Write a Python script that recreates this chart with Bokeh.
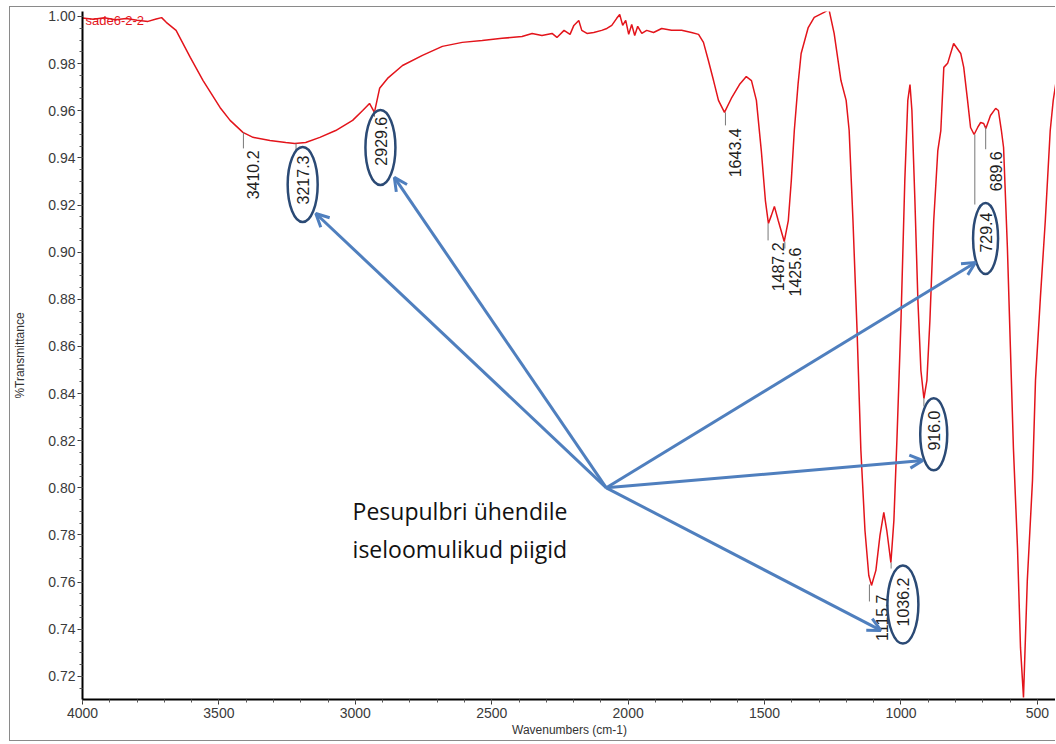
import math
from bokeh.plotting import figure
from bokeh.models import Range1d, FixedTicker, PrintfTickFormatter, Arrow, OpenHead, ColumnDataSource
from bokeh.core.properties import value
from bokeh.embed import file_html
from bokeh.resources import INLINE

# ---------------- data ----------------
wavenumber = [4000, 3960, 3920, 3880, 3840, 3800, 3760, 3730, 3710, 3693, 3657, 3605, 3558, 3496,
              3459, 3412, 3375, 3313, 3255, 3222, 3182, 3130, 3072, 3010, 2973, 2948, 2930, 2911,
              2882, 2827, 2754, 2681, 2608, 2535, 2462, 2389, 2352, 2316, 2279, 2261, 2235, 2213,
              2199, 2181, 2170, 2151, 2126, 2097, 2078, 2060, 2042, 2031, 2020, 2009, 1998, 1987,
              1976, 1965, 1950, 1932, 1907, 1877, 1841, 1804, 1768, 1742, 1724, 1706, 1687, 1669,
              1647, 1622, 1592, 1567, 1548, 1530, 1512, 1497, 1486, 1475, 1464, 1450, 1428, 1413,
              1402, 1391, 1377, 1366, 1340, 1318, 1282, 1264, 1245, 1220, 1201, 1190, 1176, 1161,
              1147, 1132, 1118, 1108, 1092, 1077, 1063, 1052, 1037, 1026, 1015, 1000, 986, 975,
              967, 960, 949, 938, 927, 916, 905, 894, 880, 865, 854, 843, 829, 807, 781, 770, 756,
              745, 732, 719, 708, 697, 689, 672, 653, 643, 632, 624, 610, 599, 588, 573, 562, 551,
              537, 518, 507, 489, 471, 453, 442, 431]
transmittance = [0.9993, 0.9988, 0.9994, 0.9986, 0.9991, 0.9984, 0.9979, 0.9989, 0.9995, 0.9975,
                 0.9941, 0.9826, 0.9728, 0.9614, 0.9559, 0.9508, 0.9487, 0.9474, 0.9465, 0.9461,
                 0.9465, 0.9487, 0.9516, 0.9559, 0.9601, 0.9631, 0.9593, 0.9695, 0.9737, 0.9792,
                 0.9835, 0.9873, 0.9890, 0.9898, 0.9907, 0.9915, 0.9928, 0.9919, 0.9928, 0.9911,
                 0.9941, 0.9924, 0.9962, 0.9983, 0.9941, 0.9928, 0.9932, 0.9941, 0.9949, 0.9962,
                 0.9992, 1.0008, 0.9962, 0.9983, 0.9924, 0.9966, 0.9919, 0.9958, 0.9928, 0.9941,
                 0.9932, 0.9949, 0.9941, 0.9941, 0.9932, 0.9924, 0.9890, 0.9813, 0.9728, 0.9644,
                 0.9593, 0.9652, 0.9711, 0.9745, 0.9728, 0.9644, 0.9431, 0.9219, 0.9122, 0.9156,
                 0.9194, 0.9134, 0.9045, 0.9134, 0.9304, 0.9516, 0.9716, 0.9843, 0.9953, 0.9996,
                 1.0017, 1.0030, 0.9928, 0.9728, 0.9644, 0.9516, 0.9134, 0.8668, 0.8159, 0.7819,
                 0.7628, 0.7586, 0.7650, 0.7798, 0.7896, 0.7819, 0.7683, 0.7862, 0.8201, 0.8710,
                 0.9304, 0.9644, 0.9711, 0.9601, 0.9219, 0.8795, 0.8498, 0.8379, 0.8456, 0.8710,
                 0.9134, 0.9431, 0.9516, 0.9784, 0.9801, 0.9885, 0.9843, 0.9784, 0.9644, 0.9529,
                 0.9499, 0.9529, 0.9550, 0.9546, 0.9525, 0.9580, 0.9610, 0.9601, 0.9516, 0.9444,
                 0.9020, 0.8596, 0.8171, 0.7747, 0.7323, 0.7111, 0.7607, 0.8031, 0.8456, 0.8808,
                 0.9134, 0.9516, 0.9644, 0.9728]

peak_labels = ["3410.2", "3217.3", "2929.6", "1643.4", "1487.2", "1425.6",
               "1115.7", "1036.2", "916.0", "729.4", "689.6"]
peak_wn = [3410.2, 3217.3, 2929.6, 1643.4, 1487.2, 1425.6, 1115.7, 1036.2, 916.0, 729.4, 689.6]
peak_tr = [0.9508, 0.9461, 0.9600, 0.9593, 0.9122, 0.9045, 0.7590, 0.7683, 0.8379, 0.9499, 0.9530]

# highlighted peaks (circled) and arrow targets
circled_wn = [3193, 2908, 690, 880, 993]
circled_tr = [0.9287, 0.9444, 0.9058, 0.8227, 0.7505]
arrow_origin = (2080, 0.800)
arrow_tip_wn = [3145, 2857, 727, 920, 1074]
arrow_tip_tr = [0.9164, 0.9317, 0.8956, 0.8116, 0.7395]

note_lines = ["Pesupulbri ühendile", "iseloomulikud piigid"]
x_ticks = [4000, 3500, 3000, 2500, 2000, 1500, 1000, 500]
y_ticks = [0.72, 0.74, 0.76, 0.78, 0.80, 0.82, 0.84, 0.86, 0.88, 0.90, 0.92, 0.94, 0.96, 0.98, 1.00]

# ---------------- layout ----------------
X0, X1 = 4000, 430
Y0, Y1 = 0.7102, 1.0021
FRAME_W, FRAME_H = 977, 688
XPX = (X0 - X1) / FRAME_W
YPX = (Y1 - Y0) / FRAME_H

leader_px = [16, 8, 6, 13, 17, 7, 17, 6, 8, 70, 22]
text_gap_px = [18, 12, 6, 16, 19, 6, 10, 15, 12, 78, 24]
text_dx_px = [10, 7, 6, 10, 10, 10, 13, 12, 10, 11, 10]
ell_w = [30, 30, 25, 27, 31]
ell_h = [75, 75, 71, 72, 78]

FONT = value("Liberation Sans")

p = figure(width=1046, height=735, x_range=Range1d(X0, X1), y_range=Range1d(Y0, Y1),
           output_backend="svg", toolbar_location=None,
           min_border_left=69, min_border_right=0, min_border_top=4, min_border_bottom=43)
p.styles = {"margin-left": "9px", "margin-top": "6px",
            "border-left": "1px solid #8a8a8a", "border-top": "1px solid #8a8a8a",
            "border-bottom": "1px solid #8a8a8a"}
p.background_fill_color = "white"
p.border_fill_color = "white"
p.outline_line_color = None
p.xgrid.visible = False
p.ygrid.visible = False

# axes
p.xaxis.ticker = FixedTicker(ticks=x_ticks, minor_ticks=list(range(400, 4001, 100)))
p.yaxis.ticker = FixedTicker(ticks=y_ticks, minor_ticks=[round(0.71 + 0.005 * i, 3) for i in range(60)])
p.yaxis.formatter = PrintfTickFormatter(format="%.2f")
for ax in (p.xaxis[0], p.yaxis[0]):
    ax.axis_line_color = "black"
    ax.axis_line_width = 2
    ax.major_tick_line_color = "#333333"
    ax.minor_tick_line_color = "#555555"
    ax.major_tick_out = 5
    ax.major_tick_in = 0
    ax.minor_tick_out = 3
    ax.minor_tick_in = 0
    ax.major_label_text_font = "Liberation Sans"
    ax.major_label_text_font_size = "14px"
    ax.major_label_text_color = "#3a3a3a"
    ax.axis_label_text_font = "Liberation Sans"
    ax.axis_label_text_font_size = "12px"
    ax.axis_label_text_font_style = "normal"
    ax.axis_label_text_color = "#333333"
p.xaxis.axis_label = "Wavenumbers (cm-1)"
p.yaxis.axis_label = "%Transmittance"
p.xaxis.major_label_standoff = 3
p.xaxis.axis_label_standoff = 2
p.yaxis.major_label_standoff = 2
p.yaxis.axis_label_standoff = 18

# spectrum
p.line(wavenumber, transmittance, line_color="#e3141b", line_width=1.5)

# sample name
p.text(x=[X0 - 3 * XPX], y=[0.9983], text=["sade6-2-2"], text_color="#e3141b",
       text_font=FONT, text_font_size="13px", text_align="left", text_baseline="middle")

# peak leaders and labels
lead_src = ColumnDataSource(dict(
    x=peak_wn, y0=peak_tr,
    y1=[t - d * YPX for t, d in zip(peak_tr, leader_px)]))
p.segment(x0="x", y0="y0", x1="x", y1="y1", source=lead_src, line_color="#777777", line_width=1)

lab_src = ColumnDataSource(dict(
    x=[w - dx * XPX for w, dx in zip(peak_wn, text_dx_px)],
    y=[t - g * YPX for t, g in zip(peak_tr, text_gap_px)],
    text=peak_labels))
p.text(x="x", y="y", text="text", source=lab_src, angle=math.pi / 2,
       text_align="right", text_baseline="middle", text_color="#1e1e1e",
       text_font=FONT, text_font_size="16px")

# ellipses
p.ellipse(x=circled_wn, y=circled_tr, width=ell_w, height=ell_h,
          width_units="screen", height_units="screen",
          fill_color=None, line_color="#2b4a75", line_width=2.5)

# arrows
for xt, yt in zip(arrow_tip_wn, arrow_tip_tr):
    p.add_layout(Arrow(end=OpenHead(size=13, line_color="#4f7fbe", line_width=3),
                       x_start=arrow_origin[0], y_start=arrow_origin[1], x_end=xt, y_end=yt,
                       line_color="#4f7fbe", line_width=3))

# note text
p.text(x=[3010, 3010], y=[0.7900, 0.7739], text=note_lines, text_color="#111111",
       text_font=value("Open Sans"), text_font_size="23px", text_align="left", text_baseline="middle")

open("out.html", "w").write(file_html(p, INLINE))
